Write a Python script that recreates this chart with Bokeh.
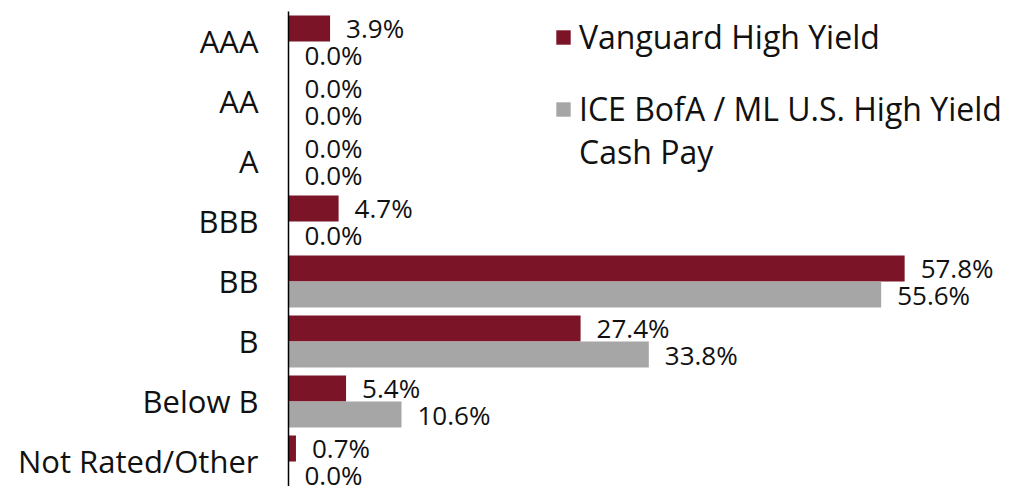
from bokeh.plotting import figure
from bokeh.models import ColumnDataSource, Range1d, FixedTicker, Legend, LegendItem
from bokeh.core.properties import value
from bokeh.embed import file_html
from bokeh.resources import INLINE

categories = ["AAA", "AA", "A", "BBB", "BB", "B", "Below B", "Not Rated/Other"]
vanguard = [3.9, 0.0, 0.0, 4.7, 57.8, 27.4, 5.4, 0.7]
ice = [0.0, 0.0, 0.0, 0.0, 55.6, 33.8, 10.6, 0.0]
series_names = ["Vanguard High Yield", "ICE BofA / ML U.S. High Yield", "Cash Pay"]
colors = ["#7B1426", "#A6A6A6"]

FONT = "Open Sans"
TXT = "#111111"
idx = list(range(len(categories)))
off = 0.217
bar_h = 0.433

src_v = ColumnDataSource(dict(y=[i - off for i in idx], x=vanguard,
                              lab=[f"{v:.1f}%" for v in vanguard]))
src_i = ColumnDataSource(dict(y=[i + off for i in idx], x=ice,
                              lab=[f"{v:.1f}%" for v in ice]))

p = figure(width=1015, height=486, output_backend="svg", toolbar_location=None,
           x_range=Range1d(0, 68.2), y_range=Range1d(7.417, -0.5),
           min_border_left=288, min_border_right=0, min_border_top=11,
           min_border_bottom=0)
p.outline_line_color = None
p.xgrid.visible = False
p.ygrid.visible = False
p.xaxis.visible = False

r1 = p.hbar(y="y", right="x", left=0, height=bar_h, source=src_v,
            fill_color=colors[0], line_color=None)
r2 = p.hbar(y="y", right="x", left=0, height=bar_h, source=src_i,
            fill_color=colors[1], line_color=None)
# invisible renderer used only for the legend's second text line
r_blank = p.hbar(y=[0], right=[0], left=0, height=0.0, fill_alpha=0, line_alpha=0)

for s in (src_v, src_i):
    p.text(x="x", y="y", text="lab", source=s, x_offset=16,
           text_baseline="middle", text_align="left",
           text_font=value(FONT), text_font_size="26px", text_color=TXT)

ya = p.yaxis[0]
ya.ticker = FixedTicker(ticks=idx)
ya.major_label_overrides = {i: c for i, c in zip(idx, categories)}
ya.major_tick_line_color = None
ya.minor_tick_line_color = None
ya.major_tick_out = 0
ya.major_tick_in = 0
ya.minor_tick_out = 0
ya.axis_line_color = "#000000"
ya.axis_line_width = 1.5
ya.major_label_standoff = 30
ya.major_label_text_font = FONT
ya.major_label_text_font_size = "31px"
ya.major_label_text_color = TXT


def style(lg):
    lg.label_text_font = FONT
    lg.label_text_font_size = "32px"
    lg.label_text_color = TXT
    lg.glyph_width = 18
    lg.glyph_height = 18
    lg.label_standoff = 7
    lg.padding = 0
    lg.margin = 0
    lg.border_line_color = None
    lg.background_fill_alpha = 0


legend_a = Legend(items=[LegendItem(label=series_names[0], renderers=[r1])],
                  location=(266, 428))
legend_b = Legend(items=[LegendItem(label=series_names[1], renderers=[r2]),
                         LegendItem(label=series_names[2], renderers=[r_blank])],
                  location=(266, 313))
style(legend_a)
style(legend_b)
legend_b.spacing = -6
p.add_layout(legend_a)
p.add_layout(legend_b)

open("out.html", "w").write(file_html(p, INLINE))
